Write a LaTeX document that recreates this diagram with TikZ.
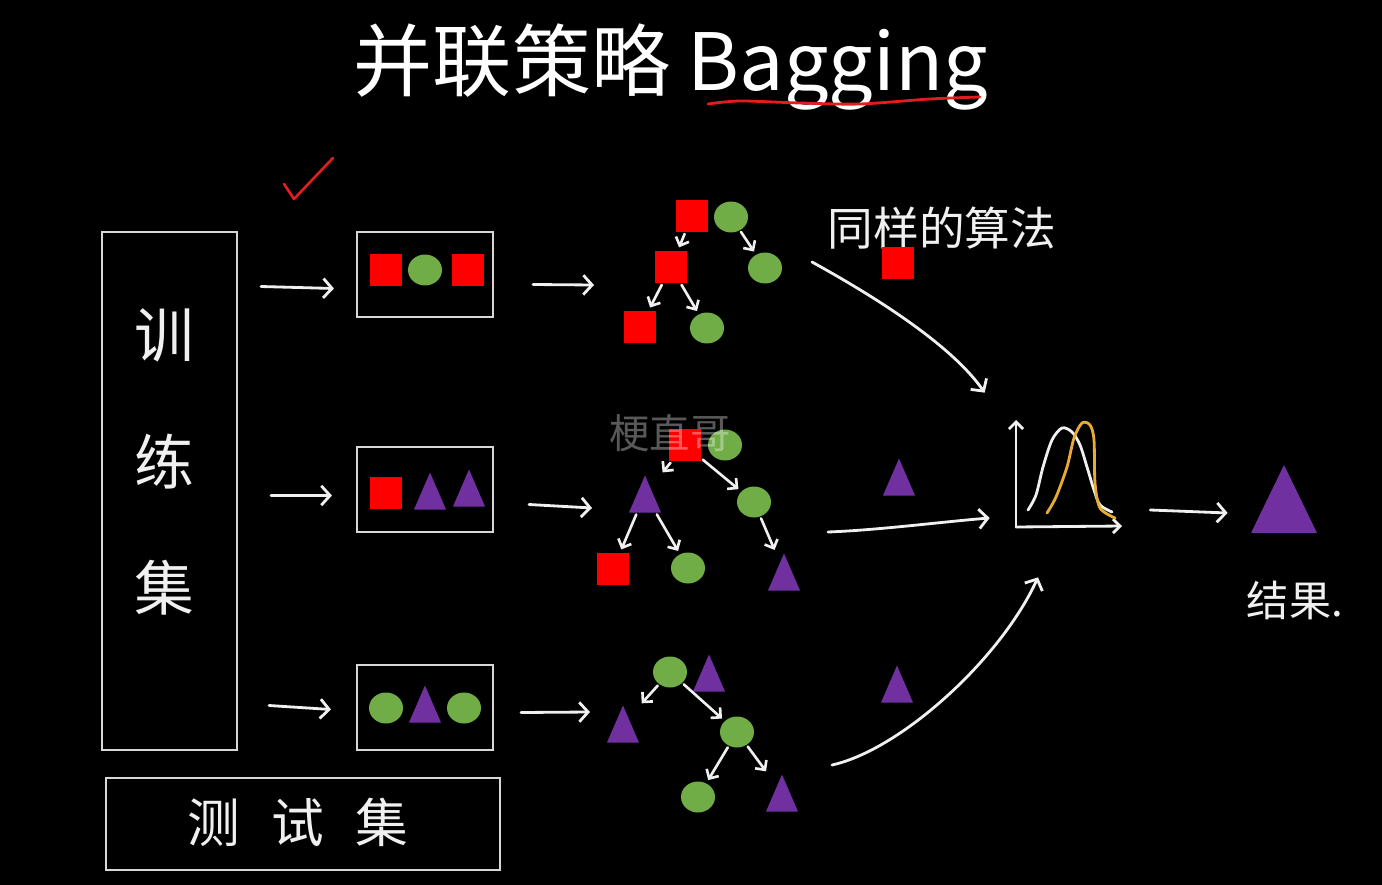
\documentclass[tikz,border=0pt]{standalone}
\usepackage{fontspec}
\newfontfamily\cjk{Noto Sans CJK SC}
\usetikzlibrary{arrows.meta,shapes.geometric,calc}
\definecolor{sqred}{RGB}{255,0,0}
\definecolor{cgreen}{RGB}{112,173,71}
\definecolor{tpurple}{RGB}{112,48,160}
\definecolor{chalk}{RGB}{240,240,240}
\definecolor{boxline}{RGB}{215,215,215}
\definecolor{gold}{RGB}{232,172,50}
\definecolor{inkred}{RGB}{225,30,30}
\begin{document}
\begin{tikzpicture}[x=0.02cm,y=-0.02cm,
  sq/.style={fill=sqred,minimum size=0.64cm,inner sep=0pt},
  ci/.style={ellipse,fill=cgreen,minimum width=0.68cm,minimum height=0.62cm,inner sep=0pt},
  tri/.style={minimum width=0.64cm,minimum height=0.74cm,inner sep=0pt,
    path picture={\fill[tpurple] (path picture bounding box.south west) -- (path picture bounding box.south east) -- (path picture bounding box.north) -- cycle;}},
  setbox/.style={draw=boxline,line width=1.2pt,inner sep=0pt},
  hand/.style={text=chalk,font=\cjk},
  harrow/.style={draw=chalk,line width=1.6pt,line cap=round,-{Straight Barb[length=5pt,width=11pt]}},
  tarrow/.style={draw=chalk,line width=1.5pt,line cap=round,shorten <=1pt,shorten >=2pt,-{Straight Barb[length=4pt,width=8pt]}},
  curve/.style={line width=1.6pt,line cap=round}
]
\fill[black] (0,0) rectangle (1382,885);
\useasboundingbox (0,0) rectangle (1382,885);

% title
\node[text=white,font=\cjk\fontsize{45}{50}\selectfont] (title) at (671,67) {并联策略 Bagging};
\draw[inkred,line width=1.6pt,line cap=round] plot[smooth] coordinates {(708,104) (740,101) (800,103) (860,104) (930,99) (980,97)};
\draw[inkred,line width=1.5pt,line cap=round,line join=round] (284,184) -- (294,199) -- (333,158);

% training set / test set
\node[setbox,minimum width=2.7cm,minimum height=10.36cm] (train) at (169.5,491) {};
\node[hand,align=center,font=\cjk\fontsize{34}{72}\selectfont] (trainlbl) at (164,462) {训\\练\\集};
\node[setbox,minimum width=7.88cm,minimum height=1.84cm] (test) at (303,824) {};
\node[hand,font=\cjk\fontsize{30}{34}\selectfont] (testlbl) at (298,822) {测\hspace{0.62cm}试\hspace{0.62cm}集};

% sample boxes
\node[setbox,minimum width=2.72cm,minimum height=1.7cm] (b1) at (425,274.5) {};
\node[setbox,minimum width=2.72cm,minimum height=1.7cm] (b2) at (425,489.5) {};
\node[setbox,minimum width=2.72cm,minimum height=1.7cm] (b3) at (425,707.5) {};
\node[sq] (b1a) at (386,270) {};
\node[ci] (b1b) at (425,270) {};
\node[sq] (b1c) at (468,270) {};
\node[sq] (b2a) at (386,493) {};
\node[tri] (b2b) at (430,491) {};
\node[tri] (b2c) at (469,488) {};
\node[ci] (b3a) at (386,708) {};
\node[tri] (b3b) at (425,704) {};
\node[ci] (b3c) at (464,708) {};

\draw[harrow] ($(train.east |- b1.west)+(23,12)$) -- ($(b1.west)+(-22,14)$);
\draw[harrow] ($(train.east |- b2.west)+(33,6)$) -- ($(b2.west)+(-24,6)$);
\draw[harrow] ($(train.east |- b3.west)+(31,-2)$) -- ($(b3.west)+(-25,2)$);

% tree 1
\node[sq] (r1s) at (692,216) {};
\node[ci] (r1c) at (731,217) {};
\node[sq] (n1s) at (671,267) {};
\node[ci] (n1c) at (765,268) {};
\node[sq] (l1s) at (640,327) {};
\node[ci] (l1c) at (707,328) {};
\draw[tarrow] (r1s) -- (n1s);
\draw[tarrow] (r1c) -- (n1c);
\draw[tarrow] (n1s) -- (l1s);
\draw[tarrow] (n1s) -- (l1c);

% tree 2
\node[sq] (r2s) at (685,445) {};
\node[ci] (r2c) at (725,445) {};
\node[tri] (n2t) at (645,494) {};
\node[ci] (n2c) at (754,502) {};
\node[sq] (l2s) at (613,569) {};
\node[ci] (l2c) at (688,568) {};
\node[tri] (l2t) at (784,572) {};
\draw[tarrow] (r2s) -- (n2t);
\draw[tarrow] (r2s) -- (n2c);
\draw[tarrow] (n2t) -- (l2s);
\draw[tarrow] (n2t) -- (l2c);
\draw[tarrow] (n2c) -- (l2t);

% tree 3
\node[ci] (r3c) at (670,672) {};
\node[tri] (r3t) at (709,673) {};
\node[tri] (n3t) at (623,724) {};
\node[ci] (n3c) at (737,732) {};
\node[ci] (l3c) at (698,797) {};
\node[tri] (l3t) at (782,793) {};
\draw[tarrow] (r3c) -- (n3t);
\draw[tarrow] (r3c) -- (n3c);
\draw[tarrow] (n3c) -- (l3c);
\draw[tarrow] (n3c) -- (l3t);

% box -> tree arrows
\coordinate (t1in) at (594,285);
\coordinate (t2in) at (592,508);
\coordinate (t3in) at (590,712);
\draw[harrow] ($(b1.east)+(39,10)$) -- (t1in);
\draw[harrow] ($(b2.east)+(35,15)$) -- (t2in);
\draw[harrow] ($(b3.east)+(27,5)$) -- (t3in);

% same algorithm
\node[hand,font=\cjk\fontsize{26}{30}\selectfont] (same) at (942,228) {同样的算法};
\node[sq] (alg) at (898,263) {};
\node[tri] (st1) at (899,477) {};
\node[tri] (st2) at (897,684) {};

% distribution plot
\node[minimum width=2.8cm,minimum height=2.6cm,inner sep=0pt] (plot) at (1065,475) {};
\draw[draw=chalk,line width=1.6pt,line cap=round,-{Straight Barb[length=4pt,width=8pt]}] (1016,527) -- (1016,420);
\draw[draw=chalk,line width=1.6pt,line cap=round,-{Straight Barb[length=4pt,width=8pt]}] (1016,527) -- (1122,526);
\draw[chalk,curve] plot[smooth] coordinates {(1028,510) (1036,495) (1043,467) (1052,440) (1062,428) (1072,432) (1080,445) (1087,467) (1094,490) (1100,505) (1112,512)};
\draw[gold,curve] plot[smooth] coordinates {(1047,513) (1056,497) (1067,467) (1074,438) (1082,423) (1090,425) (1094,440) (1095,483) (1100,508) (1115,518)};

% trees -> plot
\coordinate (m1) at (812,262);
\coordinate (m2) at (828,532);
\coordinate (m3) at (832,765);
\draw[harrow] (m1) .. controls (890,305) and (955,350) .. ($(plot.north west)+(-10,-17)$);
\draw[harrow] (m2) .. controls (880,530) and (940,522) .. ($(plot.west)+(-5,43)$);
\draw[harrow] (m3) .. controls (900,750) and (1000,660) .. ($(plot.south)+(-27,37)$);

% result
\node[minimum width=1.32cm,minimum height=1.36cm,inner sep=0pt,
  path picture={\fill[tpurple] (path picture bounding box.south west) -- (path picture bounding box.south east) -- (path picture bounding box.north) -- cycle;}] (res) at (1284,499) {};
\draw[harrow] ($(plot.east)+(15,35)$) -- ($(res.west)+(-23,14)$);
\node[hand,font=\cjk\fontsize{24}{28}\selectfont] (reslbl) at (1295,600) {结果.};

% watermark
\node[text=white,opacity=0.35,font=\cjk\fontsize{23}{26}\selectfont] (wm) at (670,433) {梗直哥};
\end{tikzpicture}
\end{document}
